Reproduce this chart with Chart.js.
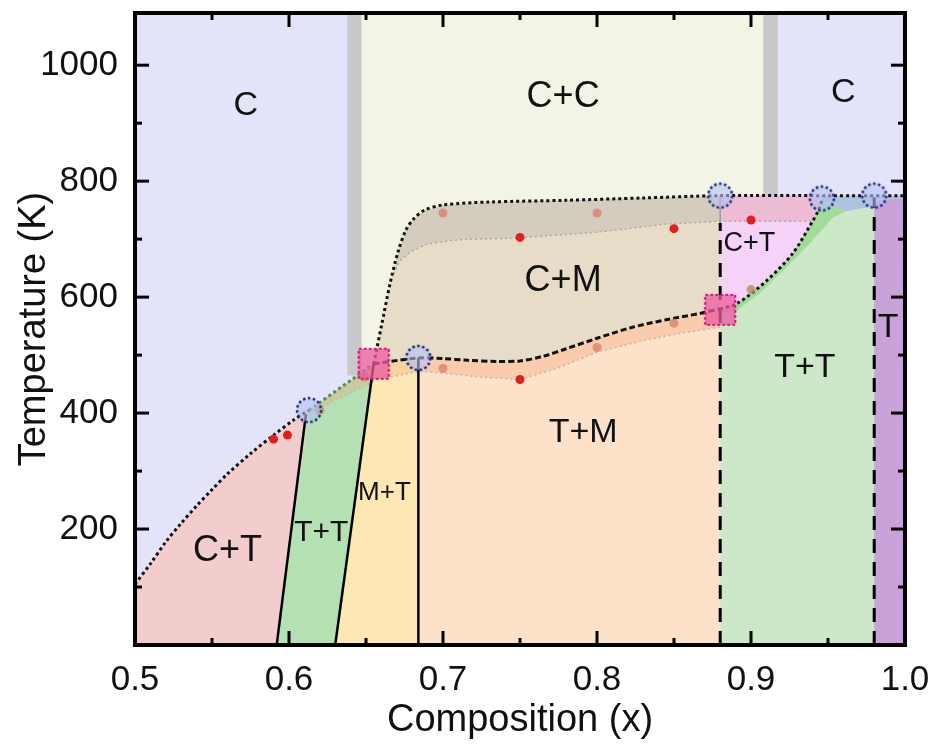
<!DOCTYPE html>
<html><head><meta charset="utf-8">
<script src="https://cdn.jsdelivr.net/npm/chart.js@4.4.1/dist/chart.umd.min.js"></script>
<style>html,body{margin:0;padding:0;background:#fff;}</style>
</head><body>
<canvas id="c" width="933" height="747"></canvas>
<script>
// ---------- axes ----------
const xTicksMajor = [0.5, 0.6, 0.7, 0.8, 0.9, 1.0];
const xTicksMinor = [0.55, 0.65, 0.75, 0.85, 0.95];
const yTicksMajor = [200, 400, 600, 800, 1000];
const yTicksMinor = [100, 300, 500, 700, 900];
const xRange = [0.5, 1.0];
const yRange = [0, 1090];

// ---------- phase boundaries (composition, temperature K) ----------
const ctLeftCurve = [[0.5,105],[0.51,140],[0.52,178],[0.53,210],[0.54,240],[0.55,268],[0.56,295],[0.575,330],[0.59,362],[0.603,388],[0.613,405]];
const ttLeftLine = [[0.592,0],[0.611,398]];
const mtLeftLine = [[0.630,0],[0.655,485]];
const mtRightLine = [[0.684,0],[0.684,495]];
const greenTie = [[0.613,405],[0.655,485]];
const lowerDashed = [[0.655,485],[0.684,495],[0.70,494],[0.716,491],[0.735,489],[0.75,490],[0.765,498],[0.78,511],[0.80,529],[0.823,548],[0.845,561],[0.867,572],[0.88,580]];
const upperDotted = [[0.655,485],[0.660,550],[0.6656,623],[0.671,680],[0.676,716],[0.681,735],[0.688,750],[0.70,759],[0.73,764],[0.78,767],[0.83,771],[0.88,775],[0.95,775],[1.0,775]];
const orangeLower = [[0.613,400],[0.635,428],[0.657,457],[0.684,472],[0.70,469],[0.725,462],[0.75,458],[0.775,478],[0.80,505],[0.83,525],[0.855,538],[0.88,548]];
const grayLower = [[0.668,640],[0.672,663],[0.679,678],[0.69,692],[0.71,699],[0.748,702],[0.80,712],[0.845,726],[0.88,731],[0.94,731]];
const rightCurve = [[0.88,580],[0.891,589],[0.91,628],[0.927,675],[0.94,731],[0.9435,748],[0.946,766]];
const greenBandEdge = [[0.882,572],[0.891,577],[0.905,605],[0.921,646],[0.938,692],[0.953,737],[0.962,748]];
const blueBandEdge = [[0.962,748],[0.98,757],[1.0,768]];
const vDashed088 = [[0.88,0],[0.88,728]];
const vThin088 = [[0.88,728],[0.88,775]];
const vDashed098 = [[0.98,0],[0.98,772]];

// region extents
const grayBandLeft = [[0.638,465],[0.647,465],[0.647,1090],[0.638,1090]];
const grayBandRight = [[0.908,775],[0.9175,775],[0.9175,1090],[0.908,1090]];
const ccRegion = [[0.647,0],[0.908,0],[0.908,1090],[0.647,1090]];
const allRegion = [[0.5,0],[1.0,0],[1.0,1090],[0.5,1090]];
const ttRightRegion = [[0.88,0],[0.98,0],[0.98,775],[0.88,775]];
const tRegion = [[0.98,0],[1.0,0],[1.0,770],[0.98,766]];

// ---------- markers ----------
const tripleCircles = [[0.613,405],[0.684,495],[0.88,775],[0.946,770],[0.98,775]];
const pinkSquares = [[0.655,485],[0.88,578]];
const redPoints = [[0.590,355],[0.599,362],[0.75,703],[0.85,718],[0.90,733],[0.75,458]];
const fadedPoints = [[0.70,745],[0.80,745],[0.70,477],[0.80,513],[0.85,555]];
const olivePoints = [[0.62,405],[0.649,462],[0.90,613]];

// ---------- region labels ----------
const regionLabels = ['C','C+C','C','C+M','C+T','T+M','T+T','T','M+T','T+T','C+T'];
const regionLabelX = [0.572,0.778,0.960,0.778,0.899,0.791,0.935,0.989,0.662,0.621,0.560];
const regionLabelY = [931,945,952,628,693,367,478,548,262,193,162];

// ---------- styles ----------
const labelSizes = [34,36,34,36,27,34,34,34,26,30,36];
const FONT = "'Liberation Sans', Arial, sans-serif";

const toXY = pts => pts.map(([x,y]) => ({x, y}));
const rev = a => a.slice().reverse();
const ds = [];
function poly(pts, color){
  ds.push({data: toXY(pts), showLine:true, fill:'shape', backgroundColor:color, borderColor:'rgba(0,0,0,0)', borderWidth:0, pointRadius:0, tension:0});
}
function line(pts, color, width, dash, tension){
  ds.push({data: toXY(pts), showLine:true, fill:false, borderColor:color, borderWidth:width, borderDash:dash||[], pointRadius:0, tension:tension||0, borderCapStyle:'butt'});
}
function points(pts, style, radius, color){
  ds.push({data: toXY(pts), showLine:false, pointStyle:style, pointRadius:radius, pointBackgroundColor:color, pointBorderColor:color, pointBorderWidth:0, pointHoverRadius:radius});
}

// polygons (bottom to top)
poly(allRegion, '#e3e3fa');
poly(ccRegion, '#f4f4e6');
poly(grayBandLeft, '#c9c9c9');
poly(grayBandRight, '#c9c9c9');
poly([[0.5,0], ...ctLeftCurve, [0.592,0]], '#f3cdcd');
poly([[0.592,0],[0.613,405],[0.655,485],[0.630,0]], '#b5e0b3');
poly([[0.630,0],[0.655,485],[0.684,495],[0.684,0]], '#fde7b3');
poly([[0.684,0], ...lowerDashed.slice(1), [0.88,0]], '#fde1c9');
poly([...lowerDashed, ...rev(upperDotted.filter(p => p[0] <= 0.88))], '#e6dcc7');
poly([grayLower[0], ...upperDotted.filter(p => p[0] > 0.668 && p[0] <= 0.88), ...rev(grayLower.filter(p => p[0] > 0.668 && p[0] <= 0.88))], 'rgba(150,150,150,0.22)');
poly([[0.613,405], ...lowerDashed, ...rev(orangeLower)], 'rgba(245,160,110,0.33)');
poly(ttRightRegion, '#cce8c8');
poly([[0.88,580],[0.88,775],[0.946,775], ...rev(rightCurve)], '#f5d3f8');
poly([[0.88,731],[0.94,731],[0.9435,748],[0.946,766],[0.946,775],[0.88,775]], 'rgba(225,170,180,0.55)');
poly([...rightCurve, ...rev(greenBandEdge)], '#a3dc99');
poly([[0.946,766], ...blueBandEdge, [1.0,775],[0.946,775]], 'rgba(168,188,225,0.85)');
poly(tRegion, '#c8a2d8');

// boundary lines
line(grayLower, '#a9a9a9', 1.5, [2,3]);
line(orangeLower, '#b8b8b8', 1.5, [2,3]);
line(greenTie, '#4f8f5a', 3, [3,3]);
line(ttLeftLine, '#000', 2.5);
line(mtLeftLine, '#000', 2.5);
line(mtRightLine, '#000', 2.5);
line(vDashed088, '#000', 3, [14,9]);
line(vThin088, '#9a9a9a', 1.5);
line(vDashed098, '#000', 3, [14,9]);
line(ctLeftCurve, '#111', 3, [3,3], 0.3);
line(lowerDashed, '#111', 3, [6,3], 0.3);
line(upperDotted, '#111', 3, [3,3], 0.3);
line(rightCurve, '#111', 3, [3,3], 0.3);

// marker images
function circleImg(){
  const c = document.createElement('canvas'); c.width = 30; c.height = 30;
  const g = c.getContext('2d');
  g.beginPath(); g.arc(15,15,12,0,Math.PI*2);
  g.fillStyle = 'rgba(180,192,245,0.6)'; g.fill();
  g.setLineDash([2.5,2.5]); g.lineWidth = 2.5; g.strokeStyle = '#1b2a7a'; g.stroke();
  return c;
}
function squareImg(){
  const c = document.createElement('canvas'); c.width = 34; c.height = 34;
  const g = c.getContext('2d');
  g.fillStyle = 'rgba(238,90,160,0.75)'; g.fillRect(2,2,30,30);
  g.setLineDash([3,2]); g.lineWidth = 2.2; g.strokeStyle = '#d0207a'; g.strokeRect(2,2,30,30);
  return c;
}
points(redPoints, 'circle', 4.5, '#e2201b');
points(fadedPoints, 'circle', 4.5, 'rgba(214,125,105,0.75)');
points(olivePoints, 'circle', 4.5, 'rgba(190,145,95,0.85)');
points(pinkSquares, squareImg(), 15, 'rgba(0,0,0,0)');
points(tripleCircles, circleImg(), 13, 'rgba(0,0,0,0)');

ds.forEach((d, i) => { d.order = ds.length - i; });

const labelPlugin = {
  id: 'regionLabels',
  afterDatasetsDraw(chart){
    const {ctx, scales:{x, y}} = chart;
    ctx.save();
    ctx.fillStyle = '#111';
    ctx.textAlign = 'center'; ctx.textBaseline = 'middle';
    regionLabels.forEach((t, i) => {
      ctx.font = labelSizes[i] + 'px ' + FONT;
      ctx.fillText(t, x.getPixelForValue(regionLabelX[i]), y.getPixelForValue(regionLabelY[i]));
    });
    ctx.restore();
  }
};
const framePlugin = {
  id: 'frame',
  afterDraw(chart){
    const {ctx, chartArea:a, scales:{x, y}} = chart;
    ctx.save();
    ctx.strokeStyle = '#000'; ctx.lineWidth = 3;
    const tick = (px, py, dx, dy) => { ctx.beginPath(); ctx.moveTo(px, py); ctx.lineTo(px + dx, py + dy); ctx.stroke(); };
    xTicksMajor.forEach(v => { const p = x.getPixelForValue(v); tick(p, a.bottom, 0, -14); tick(p, a.top, 0, 14); });
    xTicksMinor.forEach(v => { const p = x.getPixelForValue(v); tick(p, a.bottom, 0, -7); tick(p, a.top, 0, 7); });
    yTicksMajor.forEach(v => { const p = y.getPixelForValue(v); tick(a.left, p, 14, 0); tick(a.right, p, -14, 0); });
    yTicksMinor.forEach(v => { const p = y.getPixelForValue(v); tick(a.left, p, 7, 0); tick(a.right, p, -7, 0); });
    ctx.lineWidth = 4;
    ctx.strokeRect(a.left, a.top, a.right - a.left, a.bottom - a.top);
    ctx.restore();
  }
};

new Chart(document.getElementById('c'), {
  type: 'scatter',
  data: { datasets: ds },
  options: {
    responsive: false, animation: false, devicePixelRatio: 1,
    layout: { autoPadding: false, padding: { left: 12, right: 28, top: 13, bottom: 4 } },
    plugins: { legend: { display: false }, tooltip: { enabled: false }, filler: { propagate: false } },
    scales: {
      x: {
        type: 'linear', min: xRange[0], max: xRange[1],
        grid: { display: false, drawTicks: false }, border: { display: false },
        afterBuildTicks: s => { s.ticks = xTicksMajor.map(v => ({ value: v })); },
        ticks: { callback: v => v.toFixed(1), font: { family: FONT, size: 35 }, color: '#111', padding: 14, maxRotation: 0, autoSkip: false },
        title: { display: true, text: 'Composition (x)', font: { family: FONT, size: 38 }, color: '#111', padding: { top: 0, bottom: 0 } },
        afterFit: s => { s.height = 98; s.paddingLeft = 0; s.paddingRight = 0; }
      },
      y: {
        type: 'linear', min: yRange[0], max: yRange[1],
        grid: { display: false, drawTicks: false }, border: { display: false },
        afterBuildTicks: s => { s.ticks = yTicksMajor.map(v => ({ value: v })); },
        ticks: { callback: v => String(v), font: { family: FONT, size: 35 }, color: '#111', padding: 17, autoSkip: false },
        title: { display: true, text: 'Temperature (K)', font: { family: FONT, size: 38 }, color: '#111', padding: { top: 0, bottom: 0 } },
        afterFit: s => { s.width = 123; s.paddingTop = 0; s.paddingBottom = 0; }
      }
    }
  },
  plugins: [labelPlugin, framePlugin]
});
</script>
</body></html>
